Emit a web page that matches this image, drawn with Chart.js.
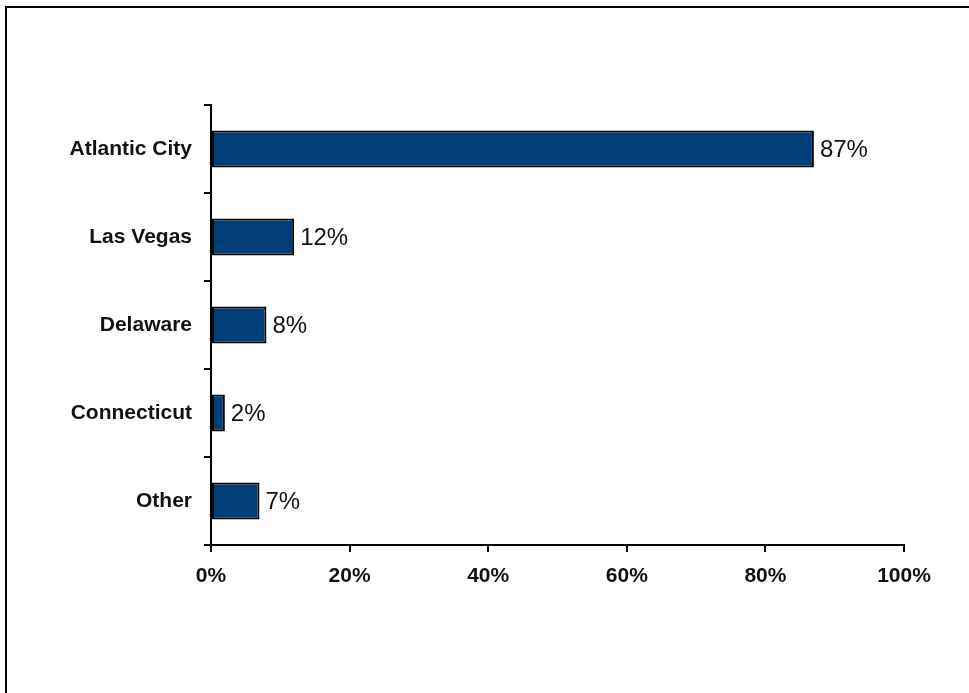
<!DOCTYPE html>
<html>
<head>
<meta charset="utf-8">
<script src="https://cdn.jsdelivr.net/npm/chart.js@4/dist/chart.umd.min.js"></script>
<style>
  html, body { margin: 0; padding: 0; background: #fff; }
  #wrap { position: relative; width: 969px; height: 693px; }
  #frame {
    position: absolute; left: 5px; top: 6px; right: -10px; bottom: -10px;
    border-left: 2px solid #000; border-top: 2px solid #000;
  }
  canvas { position: absolute; left: 0; top: 0; }
</style>
</head>
<body>
<div id="wrap">
  <div id="frame"></div>
  <canvas id="myChart" width="969" height="693"></canvas>
</div>
<script>
const places = ["Atlantic City", "Las Vegas", "Delaware", "Connecticut", "Other"];
const shares = [87, 12, 8, 2, 7];
const xTicks = [0, 20, 40, 60, 80, 100];

const ctx = document.getElementById("myChart");

// writes the percentage just past the end of each bar
const valueLabels = {
  id: "valueLabels",
  afterDatasetsDraw(chart) {
    const c = chart.ctx;
    const meta = chart.getDatasetMeta(0);
    c.save();
    c.font = "500 24px 'Liberation Sans', Arial, sans-serif";
    c.fillStyle = "#111";
    c.textAlign = "left";
    c.textBaseline = "middle";
    meta.data.forEach((bar, i) => {
      c.fillText(shares[i] + "%", bar.x + 6, bar.y + 1);
    });
    c.restore();
  },
};

const data = {
  labels: places,
  datasets: [
    {
      data: shares,
      backgroundColor: "rgb(0, 62, 120)",
      borderColor: "#000",
      borderWidth: 2,
      borderSkipped: false,
      barPercentage: 0.42,
      categoryPercentage: 1,
    },
  ],
};

const tickFont = { family: "'Liberation Sans', Arial, sans-serif", size: 21, weight: "bold" };

const config = {
  type: "bar",
  data,
  options: {
    indexAxis: "y",
    responsive: false,
    animation: false,
    layout: { padding: { top: 105, right: 65, bottom: 0, left: 0 } },
    plugins: { legend: { display: false }, tooltip: { enabled: false } },
    scales: {
      x: {
        min: 0,
        max: 100,
        afterFit: (scale) => { scale.height = 148; },
        afterBuildTicks: (scale) => { scale.ticks = xTicks.map((v) => ({ value: v })); },
        ticks: {
          color: "#111",
          font: tickFont,
          padding: 12,
          maxRotation: 0,
          callback: (v) => v + "%",
        },
        grid: { drawOnChartArea: false, drawTicks: true, tickLength: 7, color: "#000", lineWidth: 2 },
        border: { display: true, color: "#000", width: 2 },
      },
      y: {
        afterFit: (scale) => { scale.width = 211; },
        ticks: { color: "#111", font: tickFont, padding: 12 },
        grid: { drawOnChartArea: false, drawTicks: true, tickLength: 7, color: "#000", lineWidth: 2, offset: true },
        border: { display: true, color: "#000", width: 2 },
      },
    },
  },
  plugins: [valueLabels],
};

let myChart = new Chart(ctx, config);
</script>
</body>
</html>
